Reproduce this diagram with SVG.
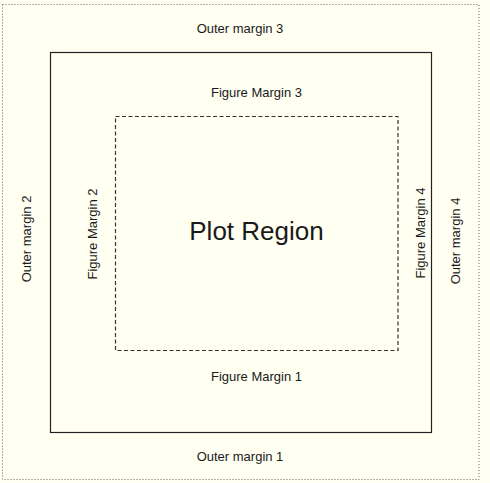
<svg xmlns="http://www.w3.org/2000/svg" width="490" height="483" viewBox="0 0 490 483">
<style>
.lbl{font-family:"Liberation Sans",Arial,sans-serif;font-size:13px;fill:#1a1a1a;text-anchor:middle}
.big{font-family:"Liberation Sans",Arial,sans-serif;font-size:26px;fill:#1a1a1a;text-anchor:middle}
</style>
<rect x="0" y="0" width="490" height="483" fill="#fffff2"/>
<g id="outer-region">
<rect x="2.5" y="4.5" width="476.5" height="475" fill="none" stroke="#666" stroke-width="1" stroke-dasharray="1,2"/>
<text class="lbl" x="240" y="33">Outer margin 3</text>
<text class="lbl" x="240" y="461">Outer margin 1</text>
<text class="lbl" transform="translate(31,239) rotate(-90)">Outer margin 2</text>
<text class="lbl" transform="translate(459.5,241) rotate(-90)">Outer margin 4</text>
</g>
<g id="figure-region">
<rect x="50.5" y="52.5" width="381" height="380" fill="none" stroke="#222" stroke-width="1.2"/>
<text class="lbl" x="256.5" y="97">Figure Margin 3</text>
<text class="lbl" x="256.5" y="380.5">Figure Margin 1</text>
<text class="lbl" transform="translate(96.5,234) rotate(-90)">Figure Margin 2</text>
<text class="lbl" transform="translate(424.5,233) rotate(-90)">Figure Margin 4</text>
</g>
<g id="plot-region">
<rect x="115.5" y="116.5" width="282.5" height="234" fill="none" stroke="#333" stroke-width="1.2" stroke-dasharray="4,2.5"/>
<text class="big" x="256.5" y="240">Plot Region</text>
</g>
</svg>
